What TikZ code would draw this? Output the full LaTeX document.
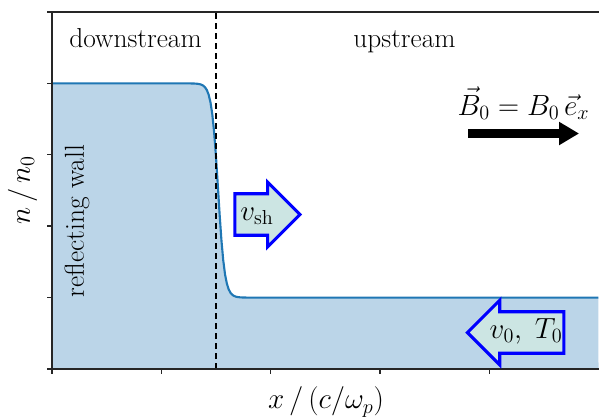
\documentclass[tikz,border=0pt]{standalone}
\usepackage{amsmath}
\usepackage{xcolor}
\usepackage{tikz}
\usetikzlibrary{arrows.meta,shapes.arrows}

\definecolor{mplblue}{HTML}{1F77B4}
\definecolor{densfill}{HTML}{BBD5E8}
\definecolor{flowfill}{HTML}{CCE5E3}

\begin{document}
\begin{tikzpicture}[
  x=2.7325cm, y=1.785cm,
  font=\fontsize{19.5}{23}\selectfont,
  spine/.style={line width=1pt, black!85},
  flow/.style={
    single arrow,
    draw=blue,
    fill=flowfill,
    line width=2.2pt,
    single arrow tip angle=90,
    single arrow head extend=0.29cm,
    text height=0.42cm,
    text depth=0.14cm,
    inner ysep=0.2cm,
    inner xsep=0.1cm
  },
  field/.style={-{Triangle[length=0.5cm, width=0.55cm]}, line width=0.21cm}
]
  \useasboundingbox (-0.4757,-0.6723) rectangle (5.0046,5.168);

  % density profile
  \fill[densfill] (0,0) -- plot[domain=0:5, samples=301]
    (\x,{2.5-1.5*tanh(min(max((\x-1.52)/0.06,-8),8))}) -- (5,0) -- cycle;
  \draw[mplblue, line width=1.5pt] plot[domain=0:5, samples=301]
    (\x,{2.5-1.5*tanh(min(max((\x-1.52)/0.06,-8),8))});

  % shock position
  \coordinate (shtop) at (1.5,5);
  \coordinate (shbot) at (1.5,0);
  \draw[line width=1.5pt, dash pattern=on 0.15cm off 0.1cm] (shbot) -- (shtop);

  % axes
  \draw[spine] (0,5) -- (0,0) -- (5.01,0);
  \draw[spine] (0,5) -- (5.01,5);
  \foreach \i in {0,...,5}
    \draw[spine] (0,\i) -- ++(-0.125cm,0);
  \foreach \i in {0,...,4}
    \draw[spine] (\i,0) -- ++(0,-0.125cm);

  \node[anchor=base] (down) at (0.764,4.496) {downstream};
  \node[anchor=base] (up) at (3.225,4.496) {upstream};
  \node[rotate=90] (wall) at (0.229,2.073) {reflecting wall};
  \node[rotate=90] (ylab) at (-0.27,2.5) {$n\,/\,n_0$};
  \node (xlab) at (2.507,-0.462) {$x\,/\,(c/\omega_p)$};

  % magnetic field
  \node[anchor=base] (bfield) at (4.314,3.557) {$\vec{B}_0 = B_0\,\vec{e}_x$};
  \coordinate (btail) at (3.806,3.298);
  \coordinate (bhead) at (4.822,3.298);
  \draw[field] (btail) -- (bhead);

  % flows
  \node[flow, minimum height=1.55cm] (vsh) at (1.876,2.164) {$v_{\mathrm{sh}}$};
  \node[flow, inner xsep=0pt, shape border rotate=180] (vzero) at (4.337,0.511) {$v_0,\;T_0$};
\end{tikzpicture}
\end{document}
